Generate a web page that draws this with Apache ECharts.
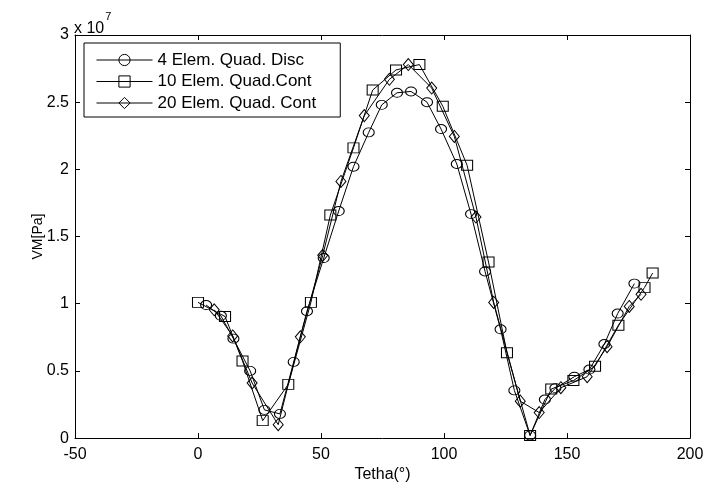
<!DOCTYPE html>
<html>
<head>
<meta charset="utf-8">
<script src="https://cdn.jsdelivr.net/npm/echarts@6/dist/echarts.min.js"></script>
<style>
html,body{margin:0;padding:0;background:#fff;}
#chart{width:707px;height:488px;}
</style>
</head>
<body>
<div id="chart"></div>
<script>
// Data (VM in units of 1e7 Pa)
const seriesNames = ['4 Elem. Quad. Disc', '10 Elem. Quad.Cont', '20 Elem. Quad. Cont'];

const theta4 = [3.3, 9.3, 14.4, 21.2, 27.0, 33.3, 38.9, 44.3, 51.1, 57.2, 63.2, 69.4, 74.7, 80.9, 86.6, 93.1, 98.8, 105.2, 111.0, 116.7, 123.0, 128.6, 135.0, 141.0, 145.3, 153.0, 159.1, 165.2, 170.6, 177.4];
const vm4    = [0.99, 0.91, 0.74, 0.50, 0.21, 0.18, 0.567, 0.944, 1.34, 1.69, 2.02, 2.275, 2.48, 2.57, 2.58, 2.50, 2.30, 2.04, 1.667, 1.24, 0.81, 0.355, 0.02, 0.287, 0.372, 0.457, 0.51, 0.70, 0.927, 1.15];

const theta10 = [0.0, 11.0, 18.1, 26.3, 36.7, 45.9, 53.8, 63.2, 71.0, 80.5, 90.0, 99.5, 109.4, 118.1, 125.6, 135.0, 143.6, 152.6, 161.4, 170.9, 181.5, 184.8];
const vm10    = [1.01, 0.905, 0.574, 0.13, 0.40, 1.01, 1.66, 2.16, 2.59, 2.74, 2.78, 2.47, 2.03, 1.31, 0.635, 0.02, 0.365, 0.428, 0.535, 0.84, 1.12, 1.228];

const theta20 = [6.6, 14.1, 22.0, 32.6, 41.6, 50.7, 58.1, 67.6, 77.8, 85.5, 95.0, 104.2, 113.0, 120.2, 131.0, 138.7, 147.5, 158.2, 166.3, 175.3, 180.1];
const vm20    = [0.955, 0.76, 0.41, 0.10, 0.754, 1.36, 1.91, 2.40, 2.67, 2.78, 2.605, 2.245, 1.645, 1.01, 0.275, 0.19, 0.375, 0.457, 0.68, 0.98, 1.07];

const xTicks = [-50, 0, 50, 100, 150, 200];
const yTicks = [0, 0.5, 1, 1.5, 2, 2.5, 3];

function pairs(xs, ys){ return xs.map((x,i)=>[x, ys[i]]); }

const FONT = 'Liberation Sans, Arial, sans-serif';
const chart = echarts.init(document.getElementById('chart'), null, {renderer:'canvas'});

function mkSeries(name, data, symbol, size){
  return {
    name: name, type: 'line', data: data,
    symbol: symbol, symbolSize: size,
    showSymbol: true,
    lineStyle: {color:'#000', width:1},
    itemStyle: {color:'rgba(255,255,255,0)', borderColor:'#000', borderWidth:1},
    emphasis: {disabled:true},
    silent: true,
    z: 3
  };
}

const axisCommon = {
  axisLine: {show:true, onZero:false, lineStyle:{color:'#000', width:1}},
  axisTick: {show:true, inside:true, length:5, lineStyle:{color:'#000'}},
  splitLine: {show:false}
};

const option = {
  animation: false,
  backgroundColor: '#fff',
  grid: {left:75, right:17, top:35, bottom:42, containLabel:false},
  legend: {
    show: true,
    orient: 'vertical',
    left: 84, top: 43,
    data: seriesNames,
    itemWidth: 56, itemHeight: 14,
    itemGap: 3.5,
    padding: [8, 24, 5, 12],
    borderColor: '#000', borderWidth: 1,
    backgroundColor: '#fff',
    lineStyle: {width: 1, color: '#000'},
    itemStyle: {borderWidth: 1, borderColor: '#000', color: 'rgba(255,255,255,0)'},
    textStyle: {fontFamily: FONT, fontSize: 17, color:'#000', lineHeight: 18},
    selectedMode: false
  },
  xAxis: [
    Object.assign({}, axisCommon, {
      type:'value', min:-50, max:200, interval:50, position:'bottom',
      axisLabel: {show:true, color:'#000', fontFamily:FONT, fontSize:16, margin:8,
        formatter: v => xTicks.includes(v) ? String(v) : ''},
      name: 'Tetha(°)', nameLocation:'middle', nameGap: 26,
      nameTextStyle: {color:'#000', fontFamily:FONT, fontSize:16}
    }),
    Object.assign({}, axisCommon, {
      type:'value', min:-50, max:200, interval:50, position:'top',
      axisLabel:{show:false}
    })
  ],
  yAxis: [
    Object.assign({}, axisCommon, {
      type:'value', min:0, max:3, interval:0.5, position:'left',
      axisLabel: {show:true, color:'#000', fontFamily:FONT, fontSize:16, margin:6,
        formatter: v => { const t = yTicks.find(y => Math.abs(y - v) < 1e-9); return t === undefined ? '' : String(t); }},
      name: 'VM[Pa]', nameLocation:'middle', nameGap: 30, nameRotate: 90,
      nameMoveOverlap: false,
      nameTextStyle: {color:'#000', fontFamily:FONT, fontSize:14}
    }),
    Object.assign({}, axisCommon, {
      type:'value', min:0, max:3, interval:0.5, position:'right',
      axisLabel:{show:false}
    })
  ],
  graphic: [{
    type: 'text', left: 74, top: 11,
    style: {
      text: '{a|x 10}{s|7}',
      rich: {
        a: {fontFamily:FONT, fontSize:16, fill:'#000', verticalAlign:'bottom', padding:[10,0,0,0]},
        s: {fontFamily:FONT, fontSize:11, fill:'#000', verticalAlign:'top', padding:[0,0,10,1]}
      }
    }
  }],
  series: [
    mkSeries(seriesNames[0], pairs(theta4, vm4), 'circle', [11, 9]),
    mkSeries(seriesNames[1], pairs(theta10, vm10), 'rect', [11, 10]),
    mkSeries(seriesNames[2], pairs(theta20, vm20), 'diamond', [10, 12])
  ]
};
chart.setOption(option);
</script>
</body>
</html>
